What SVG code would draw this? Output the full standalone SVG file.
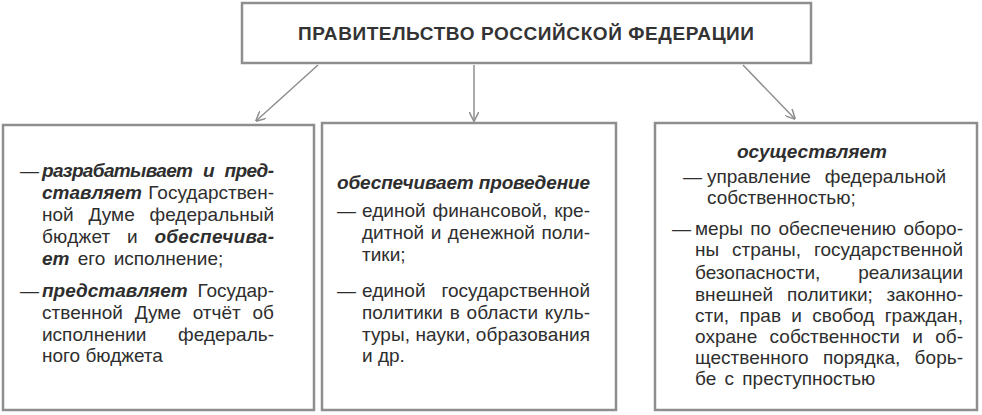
<svg xmlns="http://www.w3.org/2000/svg" width="982" height="415" viewBox="0 0 982 415">
<defs>
<style>
.box{fill:#ffffff;stroke:#8e8e8e;stroke-width:2.5}
.t{font-family:"Liberation Sans",Arial,sans-serif;font-size:19px;fill:#2e2e2e}
.bi{font-weight:bold;font-style:italic}
.e{text-anchor:end}
.title{font-family:"Liberation Sans",Arial,sans-serif;font-size:19px;font-weight:bold;fill:#333333}
.con{stroke:#8e8e8e;stroke-width:1.5;fill:none}
</style>
<marker id="arr" viewBox="0 0 10 10" refX="9.5" refY="5" markerWidth="10" markerHeight="10" markerUnits="userSpaceOnUse" orient="auto">
<path d="M0,0 L10,5 L0,10" fill="none" stroke="#8e8e8e" stroke-width="1.5"/>
</marker>
</defs>
<rect x="0" y="0" width="982" height="415" fill="#ffffff"/>
<g id="connectors">
<line class="con" x1="318" y1="65" x2="256" y2="121" marker-end="url(#arr)"/>
<line class="con" x1="474" y1="65" x2="474" y2="121" marker-end="url(#arr)"/>
<line class="con" x1="743" y1="65" x2="795" y2="119" marker-end="url(#arr)"/>
</g>
<g id="node-top">
<rect class="box" x="242" y="3" width="569" height="60"/>
<text class="title" x="526" y="40" text-anchor="middle" textLength="456" lengthAdjust="spacing">ПРАВИТЕЛЬСТВО РОССИЙСКОЙ ФЕДЕРАЦИИ</text>
</g>
<g id="node-left">
<rect class="box" x="3" y="125" width="311" height="285"/>
<text class="t" x="20" y="177">—</text>
<text class="t bi" x="42" y="177" word-spacing="6" textLength="232" lengthAdjust="spacing">разрабатывает и пред-</text>
<text class="t bi" x="42" y="199">ставляет</text>
<text class="t e" x="274" y="199">Государствен-</text>
<text class="t" x="42" y="221" word-spacing="9.5" textLength="232" lengthAdjust="spacing">ной Думе федеральный</text>
<text class="t" x="42" y="243" word-spacing="11" textLength="232" lengthAdjust="spacing">бюджет и <tspan class="bi">обеспечива-</tspan></text>
<text class="t" x="42" y="265" word-spacing="3"><tspan class="bi">ет</tspan> его исполнение;</text>
<text class="t" x="20" y="297">—</text>
<text class="t bi" x="42" y="297">представляет</text>
<text class="t e" x="274" y="297">Государ-</text>
<text class="t" x="42" y="319" word-spacing="6.4" textLength="232" lengthAdjust="spacing">ственной Думе отчёт об</text>
<text class="t" x="42" y="341">исполнении</text>
<text class="t e" x="274" y="341">федераль-</text>
<text class="t" x="42" y="362">ного бюджета</text>
</g>
<g id="node-middle">
<rect class="box" x="322" y="123" width="294" height="287"/>
<text class="t bi" x="337" y="189" textLength="253" lengthAdjust="spacing">обеспечивает проведение</text>
<text class="t" x="337" y="217">—</text>
<text class="t" x="362" y="217" word-spacing="1.5" textLength="228" lengthAdjust="spacing">единой финансовой, кре-</text>
<text class="t" x="362" y="239" word-spacing="1.2" textLength="228" lengthAdjust="spacing">дитной и денежной поли-</text>
<text class="t" x="362" y="261">тики;</text>
<text class="t" x="337" y="297">—</text>
<text class="t" x="362" y="297">единой</text>
<text class="t e" x="590" y="297">государственной</text>
<text class="t" x="362" y="319" word-spacing="1.4" textLength="228" lengthAdjust="spacing">политики в области куль-</text>
<text class="t" x="362" y="341" textLength="228" lengthAdjust="spacing">туры, науки, образования</text>
<text class="t" x="362" y="362">и др.</text>
</g>
<g id="node-right">
<rect class="box" x="655" y="123" width="322" height="287"/>
<text class="t bi" x="812" y="158" text-anchor="middle" textLength="150" lengthAdjust="spacing">осуществляет</text>
<text class="t" x="683" y="183">—</text>
<text class="t" x="707" y="183">управление</text>
<text class="t e" x="946" y="183">федеральной</text>
<text class="t" x="707" y="204">собственностью;</text>
<text class="t" x="672" y="235">—</text>
<text class="t" x="695" y="235" word-spacing="2" textLength="268" lengthAdjust="spacing">меры по обеспечению оборо-</text>
<text class="t" x="695" y="256" word-spacing="7.5" textLength="268" lengthAdjust="spacing">ны страны, государственной</text>
<text class="t" x="695" y="279">безопасности,</text>
<text class="t e" x="963" y="279">реализации</text>
<text class="t" x="695" y="301" word-spacing="8.4" textLength="268" lengthAdjust="spacing">внешней политики; законно-</text>
<text class="t" x="695" y="322" word-spacing="5" textLength="268" lengthAdjust="spacing">сти, прав и свобод граждан,</text>
<text class="t" x="695" y="343" word-spacing="7" textLength="268" lengthAdjust="spacing">охране собственности и об-</text>
<text class="t" x="695" y="364" word-spacing="9" textLength="268" lengthAdjust="spacing">щественного порядка, борь-</text>
<text class="t" x="695" y="385" word-spacing="3">бе с преступностью</text>
</g>
</svg>
